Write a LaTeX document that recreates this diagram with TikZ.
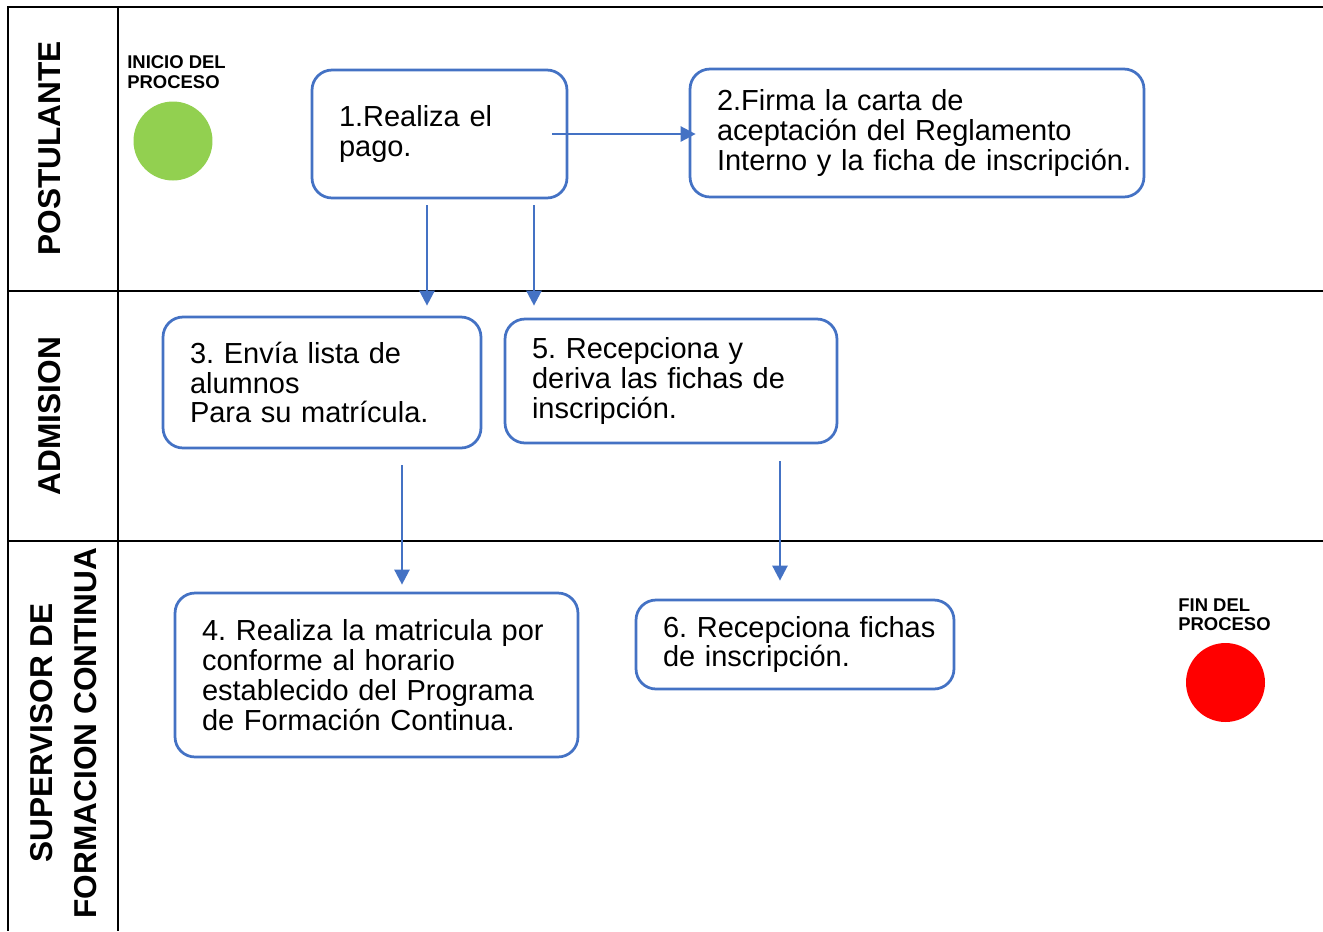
\documentclass[tikz,border=0pt]{standalone}
\usepackage{fontspec}
\setmainfont{Liberation Sans}
\usepackage{tikz}
\usetikzlibrary{arrows.meta}
\definecolor{boxblue}{HTML}{4472C4}
\definecolor{inicio}{HTML}{92D050}
\definecolor{fin}{HTML}{FF0000}
\frenchspacing
\hyphenpenalty=10000
\exhyphenpenalty=10000

\begin{document}
\begin{tikzpicture}[x=0.02cm, y=-0.02cm, lane/.style = {rotate=90, font=\fontsize{18}{25}\selectfont\bfseries, align=center, inner sep=0}, task/.style = {shape=rectangle, rounded corners=0.4cm, draw=boxblue, line width=0.055cm, align=left, inner xsep=0.54cm, inner ysep=0, font=\fontsize{16.5}{17}\selectfont}, flow/.style = {draw=boxblue, line width=0.05cm, -{Triangle[width=0.3cm,length=0.3cm]}}, evento/.style = {font=\fontsize{10.5}{11.3}\selectfont\bfseries, align=left, anchor=north west, inner sep=0}, hito/.style = {shape=circle, minimum size=1.58cm, inner sep=0}]
\useasboundingbox (0,0) rectangle (1323,931);
\draw[line width=0.05cm] (1323,7) -- (8,7) -- (8,931) (118,7) -- (118,931) (8,291) -- (1323,291) (8,541) -- (1323,541);
\node[lane] (postulante) at (49.5,148.5) {POSTULANTE};
\node[lane] (admision) at (50,416) {ADMISION};
\node[lane] (supervisor) at (64,733) {SUPERVISOR DE\\FORMACION CONTINUA};
\node[evento] (lini) at (127,55) {INICIO DEL\\PROCESO};
\node[hito, fill=inicio] (ini) at (173,141) {};
\node[evento] (lfin) at (1178,598) {FIN DEL\\PROCESO};
\node[hito, fill=fin] (fin) at (1225.5,682.5) {};
\node[task, text width=4.02cm, minimum height=2.56cm] (pago) at (439.5,134) {1.Realiza el\\pago.};
\node[task, text width=8cm, minimum height=2.56cm] (firma) at (917,133) {2.Firma~la~carta~de\\aceptación~del~Reglamento\\Interno~y~la~ficha~de~inscripción.};
\node[task, text width=5.28cm, minimum height=2.62cm] (envia) at (322,382.5) {3.~Envía~lista~de\\alumnos\\Para~su~matrícula.};
\node[task, text width=5.56cm, minimum height=2.48cm] (recep) at (671,381) {5.~Recepciona~y\\deriva~las~fichas~de\\inscripción.};
\node[task, text width=6.98cm, minimum height=3.28cm] (matri) at (376.5,675) {4.~Realiza~la~matricula~por\\conforme~al~horario\\establecido~del~Programa\\de~Formación~Continua.};
\node[task, text width=5.28cm, minimum height=1.78cm] (fichas) at (795,644.5) {6.~Recepciona~fichas\\de~inscripción.};
\draw[flow] ([xshift=-0.32cm]pago.east) -- ([xshift=0.14cm]pago.east -| firma.west);
\draw[flow] ([xshift=-0.25cm,yshift=-0.12cm]pago.south) -- ([xshift=-0.25cm,yshift=0.2cm]pago.south |- envia.north);
\draw[flow] ([xshift=1.89cm,yshift=-0.12cm]pago.south) -- ([xshift=1.89cm,yshift=0.24cm]pago.south |- recep.north);
\draw[flow] ([xshift=1.6cm,yshift=-0.32cm]envia.south) -- ([xshift=1.6cm,yshift=0.14cm]envia.south |- matri.north);
\draw[flow] ([xshift=2.18cm,yshift=-0.34cm]recep.south) -- ([xshift=2.18cm,yshift=0.36cm]recep.south |- fichas.north);
\end{tikzpicture}
\end{document}
